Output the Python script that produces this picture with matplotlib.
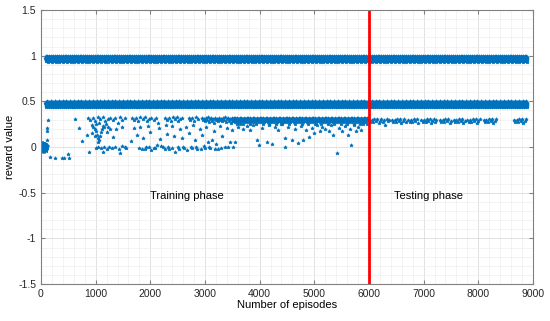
import numpy as np
import matplotlib
matplotlib.use('Agg')
from matplotlib import pyplot as plt
from matplotlib.ticker import MultipleLocator

plt.rcParams['font.family'] = ['Liberation Sans', 'DejaVu Sans']

blue = '#0072BD'

# dense reward bands: level, first episode, last episode
band_levels = [0.965, 0.47]
band_start = [80, 80]
band_end = [8900, 8900]
# spread of the points around a band
band_offsets = [0.014, -0.009, 0.026, -0.018, 0.004, -0.027, 0.017, -0.003, 0.01, -0.014,
                0.021, -0.022, 0.001, 0.03, -0.011, 0.007, -0.03, 0.015, -0.006, 0.024,
                -0.017, 0.003, -0.001]

# the ~0.3 reward band, in pieces (training part then testing part)
mid_seg_start = [860, 1660, 2270, 2700, 2950, 3500, 6000, 6420, 6720, 6960, 7300, 7550, 7800, 8100, 8650]
mid_seg_end = [1570, 2150, 2620, 2900, 3500, 5990, 6380, 6680, 6920, 7250, 7520, 7760, 8050, 8350, 8900]
mid_seg_level = [0.31, 0.31, 0.31, 0.31, 0.305, 0.30, 0.29, 0.29, 0.29, 0.29, 0.29, 0.29, 0.29, 0.29, 0.29]
mid_seg_step = [45, 40, 35, 35, 18, 7, 25, 25, 25, 25, 25, 25, 25, 25, 25]
mid_offsets = [0.01, -0.012, 0.004, -0.02, 0.015, -0.006, 0.022, -0.03, 0.0, 0.012, -0.016, 0.007,
               -0.045, 0.018, -0.009, 0.003, -0.025]

# blob of rewards near zero at the very start
start_ep = [5, 12, 20, 28, 35, 42, 50, 58, 66, 74, 82, 90, 98, 8, 16, 24, 32, 40, 48, 56, 64, 72,
            80, 88, 96, 104, 10, 30, 45, 60, 75, 95, 110]
start_rw = [0.02, -0.02, 0.01, -0.03, 0.03, 0.0, -0.01, 0.02, -0.02, 0.01, 0.03, -0.03, 0.0,
            -0.01, 0.03, 0.0, 0.02, -0.03, 0.01, -0.02, 0.03, -0.01, 0.0, 0.02, -0.03, 0.01,
            0.04, -0.04, 0.04, -0.04, 0.035, -0.035, 0.0]

# scattered training rewards
scat_ep = [128, 116, 110, 105, 165, 256, 378, 426, 500, 512,
           622, 700, 745, 850, 880,
           930, 960, 990, 1010, 1030, 1050, 1060, 1080, 1100, 1110, 1130, 1160, 1190, 1230,
           1000, 1070, 940, 980, 1040, 1200, 1260,
           1000, 1050, 1100, 1150, 1200, 1250, 1300, 1350, 1420, 1440, 1480, 1530, 1560, 1130,
           1320, 1490, 1380,
           1650, 1710, 1760, 1800, 1820, 1870, 1900, 1950, 1980, 2000, 2060, 2120, 2150, 2180,
           2230, 2280, 2300, 2350, 2400, 2440, 2460, 2500, 2550, 2580, 2620, 2660, 2700, 2740,
           2780, 2820, 2860, 2900, 2950, 2980, 3020, 3060, 3100, 3130, 3160, 3200, 3240, 3280,
           3320, 3360, 3400, 3450, 3500, 3520, 3550,
           1850, 1930, 2020, 2090, 2200, 2260, 2320, 2390, 2530, 2600, 2680, 2760, 2840, 2920,
           3000, 3080, 3180, 3300, 3420,
           3600, 3650, 3700, 3760, 3820, 3880, 3950, 3980, 4050, 4130, 4180, 4225, 4280, 4330,
           4400, 4463, 4470, 4520, 4590, 4640, 4710, 4760, 4790, 4850, 4900, 4950, 5000, 5050,
           5100, 5150, 5200, 5260, 5300, 5350, 5410, 5450, 5500, 5560, 5610, 5650, 5680, 5720,
           5760, 5800, 5850, 5900]
scat_rw = [0.30, 0.21, 0.17, 0.08, -0.11, -0.12, -0.12, -0.12, -0.08, -0.12,
           0.31, 0.21, 0.07, 0.13, -0.05,
           0.24, 0.22, 0.20, 0.17, 0.13, 0.10, 0.08, 0.12, 0.16, 0.20, 0.23, 0.22, 0.25, 0.22,
           0.25, 0.26, 0.15, 0.12, 0.05, 0.16, 0.20,
           -0.01, 0.0, -0.01, 0.0, -0.02, 0.0, -0.01, 0.0, -0.02, -0.06, 0.01, 0.0, -0.01, -0.05,
           0.11, 0.22, 0.20,
           0.07, 0.21, 0.13, -0.01, 0.22, 0.10, -0.02, 0.23, 0.0, 0.16, -0.01, 0.02, 0.21, 0.09,
           0.0, 0.24, 0.14, -0.02, 0.23, 0.12, -0.05, 0.0, 0.20, 0.10, -0.01, 0.22, 0.15, 0.0,
           0.24, 0.08, -0.02, 0.20, 0.13, 0.01, 0.22, 0.05, -0.01, 0.08, 0.18, 0.03, -0.02, 0.23,
           0.12, 0.0, 0.21, 0.06, 0.19, 0.0, 0.06,
           -0.02, 0.0, -0.03, -0.01, 0.01, -0.02, 0.0, -0.01, -0.02, 0.0, -0.03, -0.01, 0.0, -0.02,
           -0.01, 0.0, -0.02, -0.01, 0.0,
           0.22, 0.25, 0.20, 0.23, 0.19, 0.24, 0.08, 0.02, 0.21, 0.06, 0.24, 0.03, 0.22, 0.19,
           0.25, 0.10, 0.0, 0.22, 0.08, 0.20, 0.04, 0.23, 0.08, 0.19, 0.11, 0.21, 0.15, 0.24,
           0.18, 0.22, 0.20, 0.17, 0.24, 0.13, -0.06, 0.21, 0.18, 0.23, 0.13, 0.20, 0.02, 0.24,
           0.17, 0.22, 0.19, 0.25]

y_ticks = [-1.5, -1, -0.5, 0, 0.5, 1, 1.5]
y_labels = ['-1.5', '-1', '-0.5', '0', '0.5', '1', '1.5']
x_ticks = [0, 1000, 2000, 3000, 4000, 5000, 6000, 7000, 8000, 9000]

fig = plt.figure(figsize=(5.5, 3.21), dpi=100)
ax = fig.add_axes([0.0745, 0.115, 0.8945, 0.854])

ms = 2.6
mew = 0.5
for lvl, a, b in zip(band_levels, band_start, band_end):
    ep = np.arange(a, b, 3)
    rw = lvl + np.resize(band_offsets, len(ep))
    ax.plot(ep, rw, '*', color=blue, ms=ms, mew=mew, ls='none')

for a, b, lvl, st in zip(mid_seg_start, mid_seg_end, mid_seg_level, mid_seg_step):
    ep = np.arange(a, b, st)
    rw = lvl + np.resize(mid_offsets, len(ep))
    ax.plot(ep, rw, '*', color=blue, ms=ms, mew=mew, ls='none')

ax.plot(start_ep, start_rw, '*', color=blue, ms=ms + 1, mew=mew, ls='none')
ax.plot(scat_ep, scat_rw, '*', color=blue, ms=ms, mew=mew, ls='none')

ax.plot([6000, 6000], [-1.5, 1.5], color='red', lw=2)

ax.text(2000, -0.54, 'Training phase', fontsize=8, va='center')
ax.text(6450, -0.54, 'Testing phase', fontsize=8, va='center')

ax.set_xlim(0, 9000)
ax.set_ylim(-1.5, 1.5)
ax.set_xticks(x_ticks, [str(v) for v in x_ticks])
ax.set_yticks(y_ticks, y_labels)
ax.xaxis.set_minor_locator(MultipleLocator(200))
ax.yaxis.set_minor_locator(MultipleLocator(0.1))
ax.grid(which='major', color='#dcdcdc', lw=0.6)
ax.grid(which='minor', color='#efefef', lw=0.5)
ax.set_axisbelow(True)
ax.tick_params(which='both', direction='in', top=True, right=True, labelsize=7.5, colors='#262626')
ax.tick_params(which='major', length=3, color='#808080')
ax.tick_params(which='minor', length=0)
for s in ax.spines.values():
    s.set_color('#808080')
    s.set_linewidth(0.8)
ax.set_xlabel('Number of episodes', fontsize=8, labelpad=1)
ax.set_ylabel('reward value', fontsize=8, labelpad=2)

fig.savefig('out.png', dpi=100)
